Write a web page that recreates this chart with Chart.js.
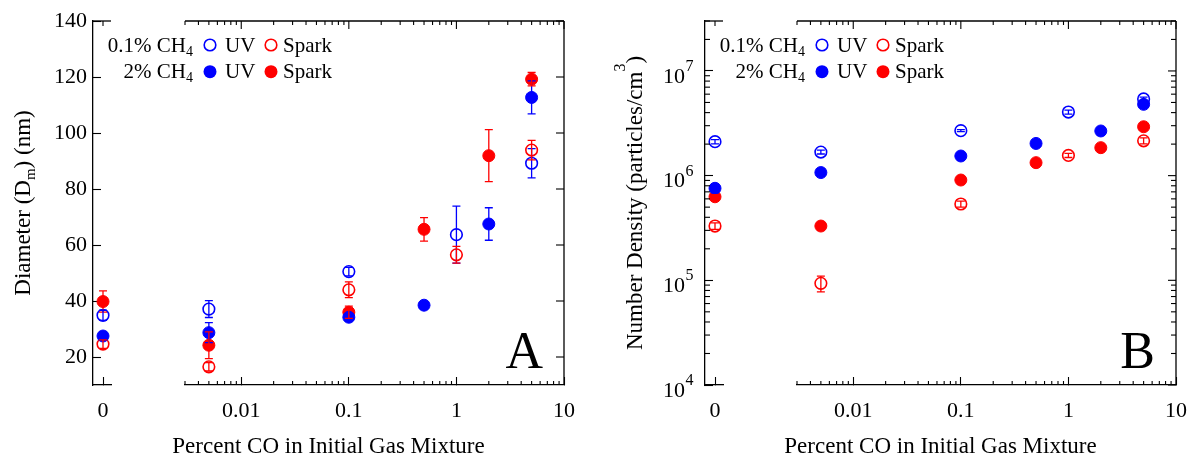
<!DOCTYPE html>
<html lang="en">
<head>
<meta charset="UTF-8">
<script src="https://cdn.jsdelivr.net/npm/chart.js"></script>
<title>Diameter and number density vs CO</title>
<style>
    body { margin: 0; background: #fff; }
    .wrap { position: relative; width: 1191px; height: 456px; }
    .panel { position: absolute; top: 0; }
    #panelA { left: 0; }
    #panelB { left: 612px; }
    canvas { display: block; }
</style>
</head>
<body>
<div class="wrap">
    <div class="panel" id="panelA"><canvas id="chartA" width="596" height="456"></canvas></div>
    <div class="panel" id="panelB"><canvas id="chartB" width="579" height="456"></canvas></div>
</div>
<script>
    // x values (percent CO); 0 goes on the little left axis piece
    const xOpen = [0, 0.005, 0.1, 1, 5];          // 0.1% CH4
    const xFilled = [0, 0.005, 0.1, 0.5, 2, 5];   // 2% CH4
    const xTicks = [0.01, 0.1, 1, 10];
    const xTickLabels = ['0.01', '0.1', '1', '10'];

    // A - diameter (nm)
    const diamUvOpen = [34.9, 37.1, 50.5, 63.7, 89.2];
    const diamUvOpenErr = [1.8, 3.0, 1.5, 10.2, 5.2];
    const diamSparkOpen = [24.6, 16.5, 44.0, 56.5, 93.9];
    const diamSparkOpenErr = [1.5, 1.5, 2.8, 3.0, 3.5];
    const diamUvFilled = [27.5, 28.7, 34.2, 38.5, 67.5, 112.7];
    const diamUvFilledErr = [1.5, 3.6, 1.0, 1.0, 5.8, 5.9];
    const diamSparkFilled = [39.8, 24.2, 36.0, 65.6, 91.9, 119.2];
    const diamSparkFilledErr = [3.8, 4.8, 2.2, 4.2, 9.3, 2.4];
    const diamTicks = [20, 40, 60, 80, 100, 120, 140];

    // B - number density (particles/cm3)
    const densUvOpen = [2.11e6, 1.68e6, 2.69e6, 4.05e6, 5.4e6];
    const densUvOpenErr = [1.0e5, 7e4, 6e4, 1.8e5, 2.2e5];
    const densSparkOpen = [3.3e5, 9.35e4, 5.36e5, 1.56e6, 2.15e6];
    const densSparkOpenErr = [2.3e4, 1.6e4, 3.5e4, 7e4, 1.4e5];
    const densUvFilled = [7.57e5, 1.07e6, 1.54e6, 2.03e6, 2.67e6, 4.8e6];
    const densUvFilledErr = [3e4, 4e4, 5e4, 6e4, 2.0e5, 2.0e5];
    const densSparkFilled = [6.28e5, 3.3e5, 9.08e5, 1.33e6, 1.85e6, 2.93e6];
    const densSparkFilledErr = [3e4, 2e4, 4e4, 6e4, 9e4, 1.5e5];
    const densTicks = [1e4, 1e5, 1e6, 1e7];

    const legendRows = ['0.1% CH', '2% CH'];

    const FONT = 'Liberation Serif';
    const BLUE = '#0000ff';
    const RED = '#ff0000';

    // minor tick positions on the log axes
    function minorTicks(min, max) {
        const out = [];
        for (let e = Math.floor(Math.log10(min)); e < Math.ceil(Math.log10(max)); e++) {
            for (let m = 2; m <= 9; m++) {
                const v = m * Math.pow(10, e);
                if (v >= min * 0.999 && v <= max * 1.001) out.push(v);
            }
        }
        return out;
    }
    const xMinor = minorTicks(0.003, 10);

    // each series is split in two datasets: the x=0 point and the log part
    function series(xs, ys, errs, color, filled, order) {
        const zero = [], rest = [];
        xs.forEach(function (x, i) {
            const p = { x: x, y: ys[i], err: errs[i] };
            (x === 0 ? zero : rest).push(p);
        });
        const style = {
            pointRadius: filled ? 6 : 5.8,
            pointBorderWidth: filled ? 1 : 1.6,
            pointBorderColor: color,
            pointBackgroundColor: filled ? color : 'rgba(0,0,0,0)',
            order: order
        };
        return [
            Object.assign({ data: zero, xAxisID: 'x0', yAxisID: 'y' }, style),
            Object.assign({ data: rest, xAxisID: 'x', yAxisID: 'y' }, style)
        ];
    }

    function line(ctx, x1, y1, x2, y2) {
        ctx.beginPath();
        ctx.moveTo(x1, y1);
        ctx.lineTo(x2, y2);
        ctx.stroke();
    }

    function marker(ctx, x, y, color, filled) {
        ctx.beginPath();
        ctx.arc(x, y, filled ? 6.5 : 5.8, 0, Math.PI * 2);
        if (filled) {
            ctx.fillStyle = color;
            ctx.fill();
        } else {
            ctx.strokeStyle = color;
            ctx.lineWidth = 1.6;
            ctx.stroke();
        }
    }

    // text made of pieces (for sub/superscripts), centred on x
    function richText(ctx, parts, x, y, rotate) {
        ctx.save();
        ctx.translate(x, y);
        if (rotate) ctx.rotate(-Math.PI / 2);
        let total = 0;
        parts.forEach(function (p) {
            ctx.font = p.size + 'px ' + FONT;
            p.w = ctx.measureText(p.text).width;
            total += p.w;
        });
        let cx = -total / 2;
        ctx.fillStyle = '#000';
        ctx.textAlign = 'left';
        ctx.textBaseline = 'alphabetic';
        parts.forEach(function (p) {
            ctx.font = p.size + 'px ' + FONT;
            ctx.fillText(p.text, cx, p.dy || 0);
            cx += p.w;
        });
        ctx.restore();
    }

    function framePlugin(cfg) {
        return {
            id: 'frame',
            afterDatasetsDraw(chart) {
                // error bars
                const ctx = chart.ctx;
                ctx.save();
                ctx.lineWidth = 1.3;
                chart.data.datasets.forEach(function (ds, di) {
                    const meta = chart.getDatasetMeta(di);
                    const ys = chart.scales[meta.yAxisID];
                    ctx.strokeStyle = ds.pointBorderColor;
                    ds.data.forEach(function (p, i) {
                        const el = meta.data[i];
                        const top = ys.getPixelForValue(p.y + p.err);
                        const bot = ys.getPixelForValue(p.y - p.err);
                        ctx.beginPath();
                        ctx.moveTo(el.x, top); ctx.lineTo(el.x, bot);
                        ctx.moveTo(el.x - 4, top); ctx.lineTo(el.x + 4, top);
                        ctx.moveTo(el.x - 4, bot); ctx.lineTo(el.x + 4, bot);
                        ctx.stroke();
                    });
                });
                ctx.restore();
            },
            afterDraw(chart) {
                const ctx = chart.ctx;
                const a = chart.chartArea;
                const x0 = chart.scales.x0, xl = chart.scales.x, y = chart.scales.y;
                ctx.save();
                ctx.strokeStyle = '#000';

                // top and right borders
                ctx.lineWidth = 1.3;
                line(ctx, x0.left, a.top, x0.right, a.top);
                line(ctx, xl.left, a.top, xl.right, a.top);
                line(ctx, a.right, a.top, a.right, a.bottom);

                // mirrored and minor ticks
                ctx.lineWidth = 1.1;
                const p0 = x0.getPixelForValue(0);
                line(ctx, p0, a.top, p0, a.top + 5);
                xTicks.forEach(function (v) {
                    const p = xl.getPixelForValue(v);
                    line(ctx, p, a.top, p, a.top + 8);
                });
                xMinor.forEach(function (v) {
                    const p = xl.getPixelForValue(v);
                    line(ctx, p, a.bottom, p, a.bottom - 4);
                    line(ctx, p, a.top, p, a.top + 4);
                });
                cfg.yTicks.forEach(function (v) {
                    const p = y.getPixelForValue(v);
                    line(ctx, a.right, p, a.right - 8, p);
                });
                cfg.yMinor.forEach(function (v) {
                    const p = y.getPixelForValue(v);
                    line(ctx, a.left, p, a.left + 5, p);
                    line(ctx, a.right, p, a.right - 5, p);
                });

                // exponents of the 10^n labels
                if (cfg.logY) {
                    ctx.fillStyle = '#000';
                    ctx.font = '16px ' + FONT;
                    ctx.textAlign = 'left';
                    ctx.textBaseline = 'alphabetic';
                    cfg.yTicks.forEach(function (v) {
                        const p = y.getPixelForValue(v);
                        ctx.fillText(String(Math.round(Math.log10(v))), 73.5, p);
                    });
                }

                // legend
                legendRows.forEach(function (label, r) {
                    const my = 45 + r * 26.7;
                    const base = my + 6.7;
                    const filled = r === 1;
                    ctx.fillStyle = '#000';
                    ctx.textBaseline = 'alphabetic';
                    ctx.font = '14px ' + FONT;
                    const sw = ctx.measureText('4').width;
                    ctx.textAlign = 'left';
                    ctx.fillText('4', 193 - sw, base + 4);
                    ctx.font = '21px ' + FONT;
                    ctx.textAlign = 'right';
                    ctx.fillText(label, 193 - sw, base);
                    marker(ctx, 210, my, BLUE, filled);
                    marker(ctx, 271, my, RED, filled);
                    ctx.fillStyle = '#000';
                    ctx.font = '21px ' + FONT;
                    ctx.textAlign = 'left';
                    ctx.fillText('UV', 225, base);
                    ctx.fillText('Spark', 283, base);
                });

                // panel letter
                ctx.fillStyle = '#000';
                ctx.font = '52px ' + FONT;
                ctx.textAlign = 'right';
                ctx.fillText(cfg.letter, 543, 368);
                ctx.restore();

                // axis titles
                richText(ctx, [{ text: 'Percent CO in Initial Gas Mixture', size: 23 }], (a.left + a.right) / 2, 453, false);
                richText(ctx, cfg.yTitle, 30, (a.top + a.bottom) / 2, true);
            }
        };
    }

    function makeChart(id, cfg) {
        const datasets = [].concat(
            series(xFilled, cfg.uvFilled, cfg.uvFilledErr, BLUE, true, 0),
            series(xFilled, cfg.sparkFilled, cfg.sparkFilledErr, RED, true, 1),
            series(xOpen, cfg.uvOpen, cfg.uvOpenErr, BLUE, false, 2),
            series(xOpen, cfg.sparkOpen, cfg.sparkOpenErr, RED, false, 3)
        );
        const tickFont = { family: FONT, size: 22 };
        const grid = function () {
            return { drawOnChartArea: false, tickLength: -8, color: '#000', tickWidth: 1.1 };
        };
        const border = function () {
            return { color: '#000', width: 1.3 };
        };
        const fitX = function (s) { s.height = 71; s.paddingLeft = 0; s.paddingRight = 0; };

        return new Chart(document.getElementById(id), {
            type: 'scatter',
            data: { datasets: datasets },
            options: {
                responsive: false,
                animation: false,
                events: [],
                layout: { padding: { top: 21, right: cfg.padRight, left: 0, bottom: 0 } },
                plugins: { legend: { display: false }, tooltip: { enabled: false } },
                scales: {
                    x0: {
                        type: 'linear', position: 'bottom', stack: 'bx', stackWeight: 18, weight: 1,
                        min: -1, max: 0.8,
                        afterBuildTicks: function (s) { s.ticks = [{ value: 0 }]; },
                        afterFit: fitX,
                        grid: grid(), border: border(),
                        ticks: { font: tickFont, color: '#000', padding: 21, maxRotation: 0, autoSkip: false, callback: function () { return '0'; } }
                    },
                    xg: {
                        type: 'linear', position: 'bottom', stack: 'bx', stackWeight: 74, weight: 2,
                        min: 0, max: 1,
                        afterFit: fitX,
                        grid: { display: false }, border: { display: false }, ticks: { display: false }
                    },
                    x: {
                        type: 'logarithmic', position: 'bottom', stack: 'bx', stackWeight: 379, weight: 3,
                        min: 0.003, max: 10,
                        afterBuildTicks: function (s) { s.ticks = xTicks.map(function (v) { return { value: v }; }); },
                        afterFit: fitX,
                        grid: grid(), border: border(),
                        ticks: { font: tickFont, color: '#000', padding: 21, maxRotation: 0, autoSkip: false, callback: function (v, i) { return xTickLabels[i]; } }
                    },
                    y: {
                        type: cfg.logY ? 'logarithmic' : 'linear', position: 'left',
                        min: cfg.yMin, max: cfg.yMax,
                        afterBuildTicks: function (s) { s.ticks = cfg.yTicks.map(function (v) { return { value: v }; }); },
                        afterFit: function (s) { s.width = 93; s.paddingTop = 0; s.paddingBottom = 0; },
                        grid: grid(), border: border(),
                        ticks: {
                            font: tickFont, color: '#000', autoSkip: false,
                            padding: cfg.logY ? 28 : 14,
                            labelOffset: cfg.logY ? 6 : 0,
                            callback: function (v) { return cfg.logY ? '10' : String(v); }
                        }
                    }
                }
            },
            plugins: [framePlugin(cfg)]
        });
    }

    makeChart('chartA', {
        letter: 'A', padRight: 32, logY: false, yMin: 10, yMax: 140,
        yTicks: diamTicks, yMinor: [],
        uvOpen: diamUvOpen, uvOpenErr: diamUvOpenErr,
        sparkOpen: diamSparkOpen, sparkOpenErr: diamSparkOpenErr,
        uvFilled: diamUvFilled, uvFilledErr: diamUvFilledErr,
        sparkFilled: diamSparkFilled, sparkFilledErr: diamSparkFilledErr,
        yTitle: [
            { text: 'Diameter (D', size: 23 },
            { text: 'm', size: 15, dy: 5 },
            { text: ') (nm)', size: 23 }
        ]
    });

    makeChart('chartB', {
        letter: 'B', padRight: 15, logY: true, yMin: 1e4, yMax: 3e7,
        yTicks: densTicks, yMinor: minorTicks(1e4, 3e7),
        uvOpen: densUvOpen, uvOpenErr: densUvOpenErr,
        sparkOpen: densSparkOpen, sparkOpenErr: densSparkOpenErr,
        uvFilled: densUvFilled, uvFilledErr: densUvFilledErr,
        sparkFilled: densSparkFilled, sparkFilledErr: densSparkFilledErr,
        yTitle: [
            { text: 'Number Density (particles/cm', size: 23 },
            { text: '3', size: 16, dy: -17 },
            { text: ')', size: 23 }
        ]
    });
</script>
</body>
</html>
